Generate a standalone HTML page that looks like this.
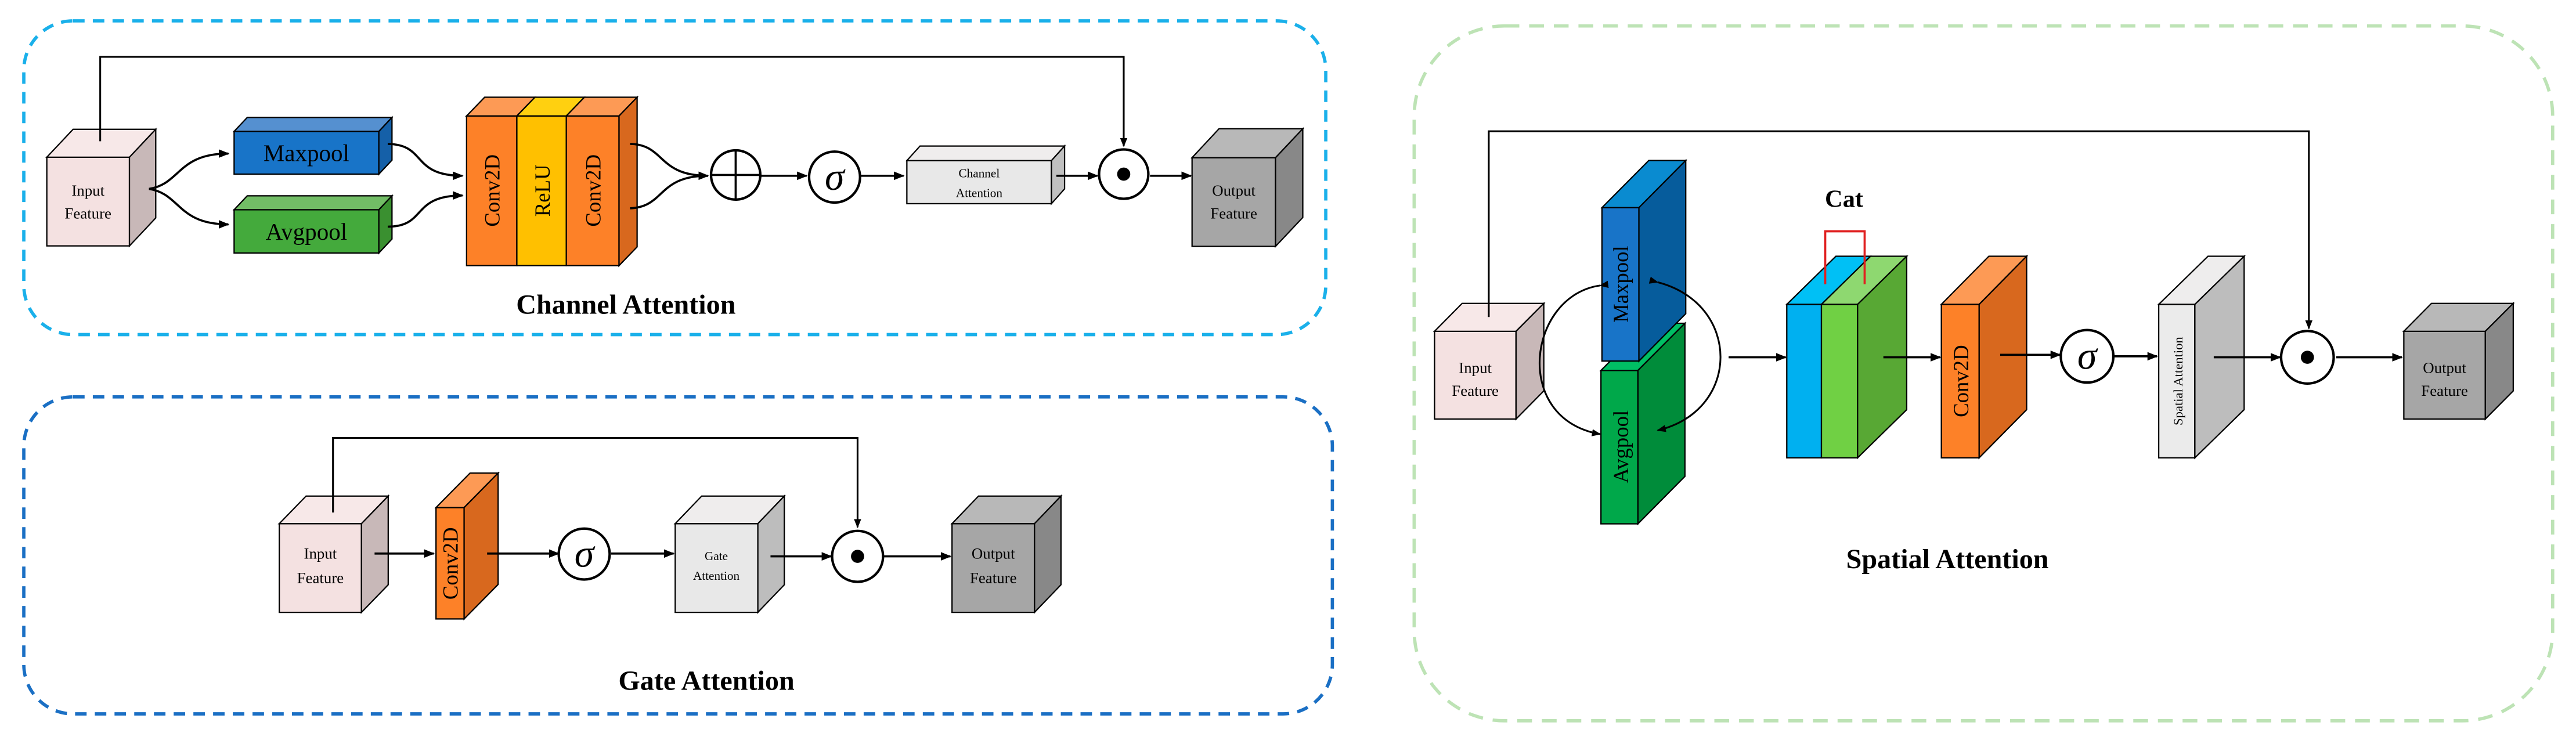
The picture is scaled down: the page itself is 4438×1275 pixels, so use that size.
<!DOCTYPE html>
<html><head><meta charset="utf-8"><style>
html,body{margin:0;padding:0;background:#fff;}
svg{display:block;}
text{font-family:"Liberation Serif",serif;fill:#000;}
</style></head><body>
<svg width="4438" height="1275" viewBox="0 0 1568 450.5" preserveAspectRatio="none" xmlns="http://www.w3.org/2000/svg">
<defs>
<marker id="a" viewBox="0 0 10 10" refX="9" refY="5" markerWidth="5" markerHeight="5" orient="auto"><path d="M0,1 L10,5 L0,9 Z" fill="#000"/></marker>
</defs>
<!-- boxes -->
<rect x="14.5" y="12.7" width="792.5" height="191" rx="30" fill="none" stroke="#1ab0ea" stroke-width="2" stroke-dasharray="7,5"/>
<rect x="14.5" y="241.6" width="796.5" height="193" rx="30" fill="none" stroke="#1a6fc4" stroke-width="2" stroke-dasharray="7,5"/>
<rect x="860.8" y="15.8" width="693" height="423" rx="55" fill="none" stroke="#bde3b5" stroke-width="2" stroke-dasharray="9,6"/>

<g stroke="#000" stroke-width="0.8">
<!-- ===== Channel ===== -->
<rect x="28.5" y="95.7" width="50.3" height="54" fill="#f4e1e1"/>
<polygon points="28.5,95.7 44.5,78.7 94.8,78.7 78.8,95.7" fill="#f7e8e8"/>
<polygon points="78.8,95.7 94.8,78.7 94.8,132.7 78.8,149.7" fill="#c8b8b8"/>
<rect x="142.5" y="80" width="88.1" height="26" fill="#1874c8"/>
<polygon points="142.5,80 150.5,71.5 238.6,71.5 230.6,80" fill="#5590d0"/>
<polygon points="230.6,80 238.6,71.5 238.6,97.5 230.6,106" fill="#1560a8"/>
<rect x="142.5" y="127.7" width="88.1" height="26.3" fill="#44aa3c"/>
<polygon points="142.5,127.7 150.5,119.2 238.6,119.2 230.6,127.7" fill="#72bd66"/>
<polygon points="230.6,127.7 238.6,119.2 238.6,145.5 230.6,154" fill="#3a9030"/>
<rect x="284" y="70.6" width="30.6" height="91.1" fill="#fd8128"/>
<rect x="314.6" y="70.6" width="30.1" height="91.1" fill="#ffc000"/>
<rect x="344.7" y="70.6" width="32.1" height="91.1" fill="#fd8128"/>
<polygon points="284,70.6 295,59.2 325.6,59.2 314.6,70.6" fill="#fd9a55"/>
<polygon points="314.6,70.6 325.6,59.2 355.7,59.2 344.7,70.6" fill="#ffd010"/>
<polygon points="344.7,70.6 355.7,59.2 387.8,59.2 376.8,70.6" fill="#fd9a55"/>
<polygon points="376.8,70.6 387.8,59.2 387.8,150.3 376.8,161.7" fill="#d8681e"/>
<rect x="552" y="97.8" width="88" height="26.2" fill="#e8e8e8"/>
<polygon points="552,97.8 560,88.9 648,88.9 640,97.8" fill="#efeded"/>
<polygon points="640,97.8 648,88.9 648,115 640,124" fill="#c0c0c0"/>
<rect x="725.6" y="96" width="50.8" height="54" fill="#a6a6a6"/>
<polygon points="725.6,96 742,78.4 793,78.4 776.4,96" fill="#b8b8b8"/>
<polygon points="776.4,96 793,78.4 793,132.4 776.4,150" fill="#888"/>

<!-- ===== Gate ===== -->
<rect x="170" y="318.8" width="50" height="54" fill="#f4e1e1"/>
<polygon points="170,318.8 186.3,302 236.3,302 220,318.8" fill="#f7e8e8"/>
<polygon points="220,318.8 236.3,302 236.3,356 220,372.8" fill="#c8b8b8"/>
<rect x="265.4" y="309" width="17.1" height="67.8" fill="#fd8128"/>
<polygon points="265.4,309 286.1,288 303.2,288 282.5,309" fill="#fd9a55"/>
<polygon points="282.5,309 303.2,288 303.2,355.8 282.5,376.8" fill="#d8681e"/>
<rect x="411" y="318.8" width="50.3" height="54" fill="#e8e8e8"/>
<polygon points="411,318.8 427.1,302 477.4,302 461.3,318.8" fill="#efeded"/>
<polygon points="461.3,318.8 477.4,302 477.4,356 461.3,372.8" fill="#bdbdbd"/>
<rect x="579.5" y="318.8" width="50.2" height="54" fill="#a6a6a6"/>
<polygon points="579.5,318.8 595.6,302 645.8,302 629.7,318.8" fill="#b8b8b8"/>
<polygon points="629.7,318.8 645.8,302 645.8,356 629.7,372.8" fill="#888"/>

<!-- ===== Spatial ===== -->
<rect x="873.2" y="201.7" width="49.6" height="53.4" fill="#f4e1e1"/>
<polygon points="873.2,201.7 890,184.7 939.7,184.7 922.8,201.7" fill="#f7e8e8"/>
<polygon points="922.8,201.7 939.7,184.7 939.7,238 922.8,255.1" fill="#c8b8b8"/>
<rect x="974.5" y="225.5" width="22.5" height="93.4" fill="#00a84a"/>
<polygon points="974.5,225.5 1003,196.8 1025.6,196.8 997,225.5" fill="#00bf64"/>
<polygon points="997,225.5 1025.6,196.8 1025.6,290 997,318.9" fill="#008c3a"/>
<rect x="975.1" y="126.4" width="22.5" height="93.4" fill="#1874c8"/>
<polygon points="975.1,126.4 1003.6,97.7 1026.1,97.7 997.6,126.4" fill="#0a8bd0"/>
<polygon points="997.6,126.4 1026.1,97.7 1026.1,191 997.6,219.8" fill="#065c9c"/>
<rect x="1087.6" y="185.3" width="21.1" height="93.4" fill="#00b0f0"/>
<rect x="1108.7" y="185.3" width="22" height="93.4" fill="#70d044"/>
<polygon points="1087.6,185.3 1117.5,156 1138.6,156 1108.7,185.3" fill="#00c0f5"/>
<polygon points="1108.7,185.3 1138.6,156 1160.6,156 1130.7,185.3" fill="#8ed870"/>
<polygon points="1130.7,185.3 1160.6,156 1160.6,249.4 1130.7,278.7" fill="#58a834"/>
<rect x="1181.7" y="185.3" width="23" height="93.4" fill="#fd8128"/>
<polygon points="1181.7,185.3 1210.6,156 1233.6,156 1204.7,185.3" fill="#fd9a55"/>
<polygon points="1204.7,185.3 1233.6,156 1233.6,249.4 1204.7,278.7" fill="#d8681e"/>
<rect x="1314" y="185.3" width="22" height="93.4" fill="#ebebeb"/>
<polygon points="1314,185.3 1344,156 1366,156 1336,185.3" fill="#eeeded"/>
<polygon points="1336,185.3 1366,156 1366,249.4 1336,278.7" fill="#bdbdbd"/>
<rect x="1463.2" y="201.7" width="49.6" height="53.4" fill="#a6a6a6"/>
<polygon points="1463.2,201.7 1480,184.7 1529.8,184.7 1512.8,201.7" fill="#b8b8b8"/>
<polygon points="1512.8,201.7 1529.8,184.7 1529.8,238 1512.8,255.1" fill="#888"/>
</g>

<!-- red bracket -->
<polyline points="1111,173 1111,140.8 1135,140.8 1135,173" fill="none" stroke="#e02020" stroke-width="1.3"/>

<!-- connectors -->
<g fill="none" stroke="#000" stroke-width="1.3">
<polyline points="61,86 61,34.6 684,34.6 684,89" stroke-width="1.1" marker-end="url(#a)"/>
<path d="M90.7,115 C110,112 108,93.5 139,93.5" marker-end="url(#a)"/>
<path d="M90.7,115 C110,118 108,136.6 139,136.6" marker-end="url(#a)"/>
<path d="M236,87.6 C260,88 250,107 281.5,107" marker-end="url(#a)"/>
<path d="M236,138 C260,138 250,119 281.5,119" marker-end="url(#a)"/>
<path d="M383.5,87.6 C405,88 400,107 431,107" marker-end="url(#a)"/>
<path d="M383.5,126.8 C405,126 400,107 431,107"/>
<line x1="463" y1="107" x2="491" y2="107" marker-end="url(#a)"/>
<line x1="524" y1="107" x2="550" y2="107" marker-end="url(#a)"/>
<line x1="643" y1="107" x2="668" y2="107" marker-end="url(#a)"/>
<line x1="700" y1="107" x2="725" y2="107" marker-end="url(#a)"/>

<polyline points="202.7,312 202.7,266.6 522,266.6 522,321" stroke-width="1.1" marker-end="url(#a)"/>
<line x1="228" y1="337" x2="264" y2="337" marker-end="url(#a)"/>
<line x1="296.5" y1="337" x2="340" y2="337" marker-end="url(#a)"/>
<line x1="372" y1="337" x2="410" y2="337" marker-end="url(#a)"/>
<line x1="469" y1="338.7" x2="506" y2="338.7" marker-end="url(#a)"/>
<line x1="538" y1="338.7" x2="578.5" y2="338.7" marker-end="url(#a)"/>

<polyline points="906.2,193 906.2,79.9 1405.4,79.9 1405.4,200" stroke-width="1.1" marker-end="url(#a)"/>
<path d="M974,173.8 C930,180 920,255 974,264.3" marker-start="url(#a)" marker-end="url(#a)" stroke-width="1.1"/>
<path d="M1009,171.8 C1060,185 1060,250 1009,262" marker-start="url(#a)" marker-end="url(#a)" stroke-width="1.1"/>
<line x1="1052.2" y1="217.5" x2="1087" y2="217.5" marker-end="url(#a)"/>
<line x1="1146.4" y1="217.5" x2="1181" y2="217.5" marker-end="url(#a)"/>
<line x1="1217.5" y1="216" x2="1254" y2="216" marker-end="url(#a)"/>
<line x1="1286.4" y1="216.9" x2="1313" y2="216.9" marker-end="url(#a)"/>
<line x1="1347.5" y1="217.5" x2="1388" y2="217.5" marker-end="url(#a)"/>
<line x1="1422" y1="217.5" x2="1462" y2="217.5" marker-end="url(#a)"/>
</g>

<!-- circles -->
<g fill="#fff" stroke="#000" stroke-width="1.5">
<circle cx="447.8" cy="106.5" r="15"/>
<circle cx="508" cy="107.8" r="15.5"/>
<circle cx="684" cy="106" r="15"/>
<circle cx="355.6" cy="337.3" r="15.5"/>
<circle cx="522" cy="338.7" r="15.5"/>
<circle cx="1270.4" cy="216.9" r="16"/>
<circle cx="1404.5" cy="217.5" r="16"/>
</g>
<g stroke="#000" stroke-width="1.3"><line x1="432.8" y1="106.5" x2="462.8" y2="106.5"/><line x1="447.8" y1="91.5" x2="447.8" y2="121.5"/></g>
<g fill="#000"><circle cx="684" cy="106" r="4"/><circle cx="522" cy="338.7" r="4"/><circle cx="1404.5" cy="217.5" r="4"/></g>
<g font-style="italic" font-size="24" text-anchor="middle">
<text x="508" y="115.5">σ</text><text x="355.6" y="345">σ</text><text x="1270.4" y="224.5">σ</text>
</g>

<!-- labels -->
<g text-anchor="middle" font-size="9.5">
<text x="53.6" y="119">Input</text><text x="53.6" y="133">Feature</text>
<text x="751" y="119">Output</text><text x="751" y="133">Feature</text>
<text x="195" y="340">Input</text><text x="195" y="355">Feature</text>
<text x="604.6" y="340">Output</text><text x="604.6" y="355">Feature</text>
<text x="898" y="227">Input</text><text x="898" y="241">Feature</text>
<text x="1488" y="227">Output</text><text x="1488" y="241">Feature</text>
</g>
<g text-anchor="middle" font-size="7.5">
<text x="596" y="108">Channel</text><text x="596" y="120">Attention</text>
<text x="436" y="341">Gate</text><text x="436" y="353">Attention</text>
</g>
<g text-anchor="middle" font-size="14.5">
<text x="186.5" y="98">Maxpool</text><text x="186.5" y="146">Avgpool</text>
</g>
<g text-anchor="middle" font-size="13">
<text transform="translate(304,116) rotate(-90)">Conv2D</text>
<text transform="translate(334.5,116) rotate(-90)">ReLU</text>
<text transform="translate(365.5,116) rotate(-90)">Conv2D</text>
<text transform="translate(278.5,343) rotate(-90)">Conv2D</text>
<text transform="translate(991,173) rotate(-90)">Maxpool</text>
<text transform="translate(991,272) rotate(-90)">Avgpool</text>
<text transform="translate(1198,232) rotate(-90)">Conv2D</text>
</g>
<text transform="translate(1328.5,232) rotate(-90)" text-anchor="middle" font-size="8">Spatial Attention</text>
<text x="1122.5" y="126" text-anchor="middle" font-size="15" font-weight="bold">Cat</text>
<g text-anchor="middle" font-size="17" font-weight="bold">
<text x="381" y="191">Channel Attention</text>
<text x="430" y="420">Gate Attention</text>
<text x="1185.4" y="346">Spatial Attention</text>
</g>
</svg>
</body></html>
